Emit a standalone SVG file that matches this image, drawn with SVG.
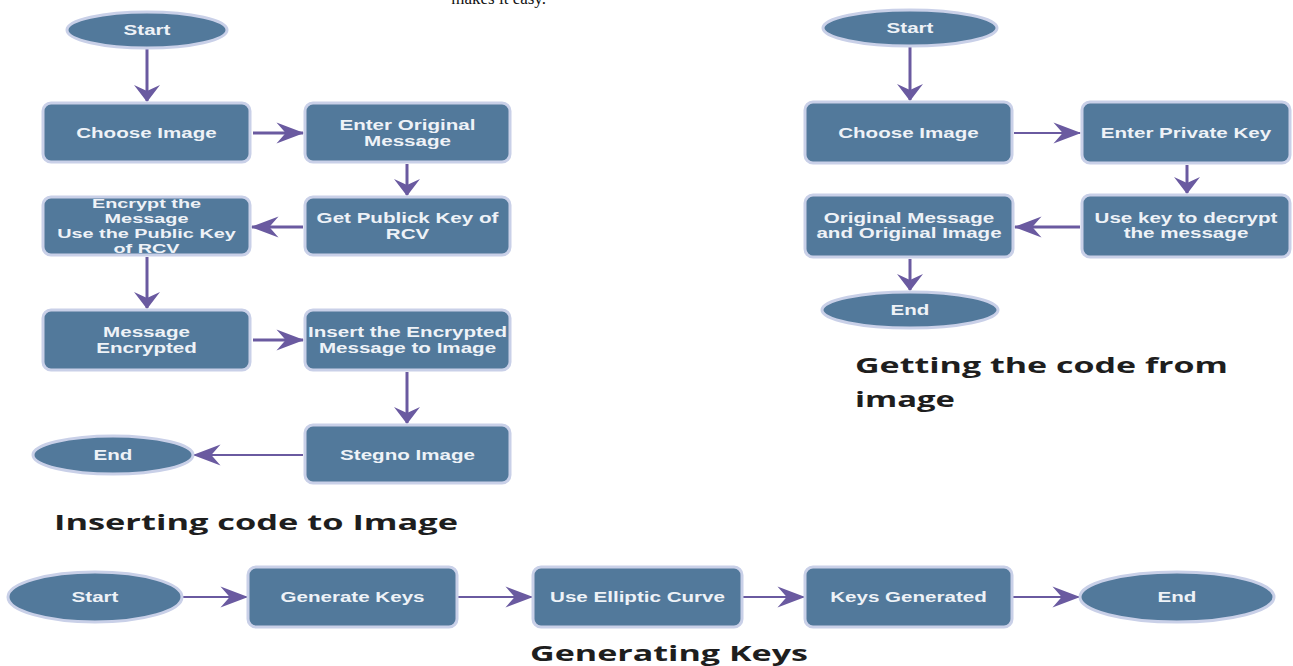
<svg xmlns="http://www.w3.org/2000/svg" width="1293" height="666" viewBox="0 0 1293 666">
<style>
  .box { fill: #52799b; stroke: #c9d0e8; stroke-width: 3; }
  .lbl { font-family: "Liberation Sans", Arial, sans-serif; font-weight: bold; font-size: 14px; fill: #eef2f7; text-anchor: middle; }
  .title { font-family: "Open Sans", "Lato", sans-serif; font-weight: bold; font-size: 22px; fill: #1e1e1e; }
  .top { font-family: "Liberation Serif", "Times New Roman", serif; font-size: 17px; fill: #111; }
  .c { stroke: #6a5aa0; stroke-width: 3; fill: none; }
  .c2 { stroke: #6a5aa0; stroke-width: 2.2; fill: none; }
  .h { marker-end: url(#ah); }
  .v { marker-end: url(#av); }
</style>
<defs>
  <marker id="ah" markerUnits="userSpaceOnUse" markerWidth="30" markerHeight="30" viewBox="-24 -12 26 24" refX="0" refY="0" orient="auto" overflow="visible">
    <path d="M1,0 L-23,-9 L-15,0 L-23,9 Z" fill="#6a5aa0"/>
  </marker>
  <marker id="av" markerUnits="userSpaceOnUse" markerWidth="30" markerHeight="30" viewBox="-18 -15 20 30" refX="0" refY="0" orient="auto" overflow="visible">
    <path d="M1,0 L-16,-13 L-10,0 L-16,13 Z" fill="#6a5aa0"/>
  </marker>
</defs>
<rect width="1293" height="666" fill="#ffffff"/>

<text class="top" x="546" y="4" text-anchor="end">makes it easy.</text>

<g id="connectors">
  <!-- Inserting code to Image -->
  <line class="c v" x1="147" y1="49" x2="147" y2="101"/>
  <line class="c h" x1="253" y1="133" x2="303" y2="133"/>
  <line class="c v" x1="407" y1="164" x2="407" y2="195"/>
  <line class="c h" x1="303" y1="227" x2="252" y2="227"/>
  <line class="c v" x1="147" y1="257" x2="147" y2="308"/>
  <line class="c h" x1="253" y1="340" x2="303" y2="340"/>
  <line class="c v" x1="407" y1="372" x2="407" y2="423"/>
  <line class="c2 h" x1="303" y1="455" x2="194" y2="455"/>
  <!-- Getting the code from image -->
  <line class="c v" x1="910" y1="47" x2="910" y2="100"/>
  <line class="c2 h" x1="1014" y1="133" x2="1080" y2="133"/>
  <line class="c v" x1="1187" y1="165" x2="1187" y2="193"/>
  <line class="c h" x1="1080" y1="227" x2="1015" y2="227"/>
  <line class="c v" x1="910" y1="259" x2="910" y2="290"/>
  <!-- Generating Keys -->
  <line class="c2 h" x1="183" y1="597" x2="247" y2="597"/>
  <line class="c2 h" x1="458" y1="597" x2="532" y2="597"/>
  <line class="c2 h" x1="743" y1="597" x2="804" y2="597"/>
  <line class="c2 h" x1="1013" y1="597" x2="1079" y2="597"/>
</g>

<!-- Inserting code to Image -->
<g id="ins-start">
  <ellipse class="box" cx="147" cy="30" rx="80" ry="18"/>
  <text class="lbl" transform="translate(147,35) scale(1.47,1)">Start</text>
</g>
<g id="ins-choose">
  <rect class="box" x="43" y="103" width="207" height="59" rx="8"/>
  <text class="lbl" transform="translate(146.5,137.5) scale(1.47,1)">Choose Image</text>
</g>
<g id="ins-enter">
  <rect class="box" x="305" y="103" width="205" height="59" rx="8"/>
  <text class="lbl" transform="translate(407.5,130) scale(1.47,1)"><tspan x="0" y="0">Enter Original</tspan><tspan x="0" y="16">Message</tspan></text>
</g>
<g id="ins-getkey">
  <rect class="box" x="305" y="197" width="205" height="58" rx="8"/>
  <text class="lbl" transform="translate(407.5,223) scale(1.47,1)"><tspan x="0" y="0">Get Publick Key of</tspan><tspan x="0" y="16">RCV</tspan></text>
</g>
<g id="ins-encrypt">
  <rect class="box" x="43" y="197" width="207" height="58" rx="8"/>
  <text class="lbl" style="font-size:13.5px" transform="translate(146.5,208) scale(1.47,1)"><tspan x="0" y="0">Encrypt the</tspan><tspan x="0" y="15">Message</tspan><tspan x="0" y="30.5">Use the Public Key</tspan><tspan x="0" y="45">of RCV</tspan></text>
</g>
<g id="ins-encrypted">
  <rect class="box" x="43" y="310" width="207" height="60" rx="8"/>
  <text class="lbl" transform="translate(146.5,337) scale(1.47,1)"><tspan x="0" y="0">Message</tspan><tspan x="0" y="16">Encrypted</tspan></text>
</g>
<g id="ins-insert">
  <rect class="box" x="305" y="310" width="205" height="60" rx="8"/>
  <text class="lbl" transform="translate(407.5,337) scale(1.47,1)"><tspan x="0" y="0">Insert the Encrypted</tspan><tspan x="0" y="16">Message to Image</tspan></text>
</g>
<g id="ins-stegno">
  <rect class="box" x="305" y="425" width="205" height="58" rx="8"/>
  <text class="lbl" transform="translate(407.5,460) scale(1.47,1)">Stegno Image</text>
</g>
<g id="ins-end">
  <ellipse class="box" cx="113" cy="455" rx="80" ry="19"/>
  <text class="lbl" transform="translate(113,460) scale(1.47,1)">End</text>
</g>
<text class="title" x="54" y="530" textLength="404" lengthAdjust="spacingAndGlyphs">Inserting code to Image</text>

<!-- Getting the code from image -->
<g id="get-start">
  <ellipse class="box" cx="910" cy="28" rx="87" ry="18"/>
  <text class="lbl" transform="translate(910,33) scale(1.47,1)">Start</text>
</g>
<g id="get-choose">
  <rect class="box" x="805" y="102" width="207" height="61" rx="8"/>
  <text class="lbl" transform="translate(908.5,138) scale(1.47,1)">Choose Image</text>
</g>
<g id="get-private">
  <rect class="box" x="1082" y="102" width="208" height="61" rx="8"/>
  <text class="lbl" transform="translate(1186,138) scale(1.47,1)">Enter Private Key</text>
</g>
<g id="get-decrypt">
  <rect class="box" x="1082" y="195" width="208" height="62" rx="8"/>
  <text class="lbl" transform="translate(1186,223) scale(1.47,1)"><tspan x="0" y="0">Use key to decrypt</tspan><tspan x="0" y="15">the message</tspan></text>
</g>
<g id="get-original">
  <rect class="box" x="805" y="195" width="208" height="62" rx="8"/>
  <text class="lbl" transform="translate(909,223) scale(1.47,1)"><tspan x="0" y="0">Original Message</tspan><tspan x="0" y="15">and Original Image</tspan></text>
</g>
<g id="get-end">
  <ellipse class="box" cx="910" cy="310" rx="88" ry="18"/>
  <text class="lbl" transform="translate(910,315) scale(1.47,1)">End</text>
</g>
<text class="title" x="855" y="373" textLength="373" lengthAdjust="spacingAndGlyphs">Getting the code from</text>
<text class="title" x="855" y="407" textLength="100" lengthAdjust="spacingAndGlyphs">image</text>

<!-- Generating Keys -->
<g id="gen-start">
  <ellipse class="box" cx="95" cy="597" rx="87" ry="25"/>
  <text class="lbl" transform="translate(95,602) scale(1.47,1)">Start</text>
</g>
<g id="gen-generate">
  <rect class="box" x="248" y="567" width="209" height="60" rx="8"/>
  <text class="lbl" transform="translate(352.5,602) scale(1.47,1)">Generate Keys</text>
</g>
<g id="gen-elliptic">
  <rect class="box" x="533" y="567" width="209" height="60" rx="8"/>
  <text class="lbl" transform="translate(637.5,602) scale(1.47,1)">Use Elliptic Curve</text>
</g>
<g id="gen-generated">
  <rect class="box" x="805" y="567" width="207" height="60" rx="8"/>
  <text class="lbl" transform="translate(908.5,602) scale(1.47,1)">Keys Generated</text>
</g>
<g id="gen-end">
  <ellipse class="box" cx="1177" cy="597" rx="97" ry="25"/>
  <text class="lbl" transform="translate(1177,602) scale(1.47,1)">End</text>
</g>
<text class="title" x="530" y="661" textLength="278" lengthAdjust="spacingAndGlyphs">Generating Keys</text>
</svg>
